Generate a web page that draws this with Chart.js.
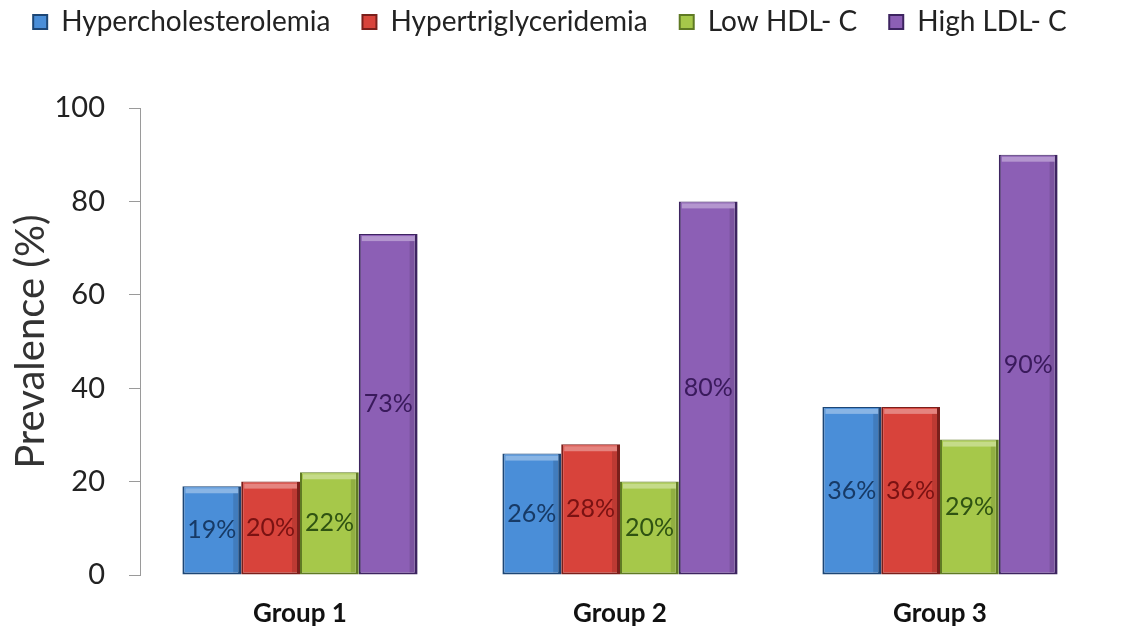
<!DOCTYPE html>
<html>
<head>
<meta charset="utf-8">
<script src="https://cdn.jsdelivr.net/npm/chart.js@4/dist/chart.umd.min.js"></script>
<style>
  html, body { margin: 0; padding: 0; background: #ffffff; }
  #wrap { width: 1127px; height: 626px; position: relative; }
</style>
</head>
<body>
<div id="wrap"><canvas id="prevChart" width="1127" height="626"></canvas></div>
<script>
const groups = ['Group 1', 'Group 2', 'Group 3'];
const seriesNames = ['Hypercholesterolemia', 'Hypertriglyceridemia', 'Low HDL- C', 'High LDL- C'];
const hyperChol = [19, 26, 36];
const hyperTrig = [20, 28, 36];
const lowHdl = [22, 20, 29];
const highLdl = [73, 80, 90];
const yTicks = [0, 20, 40, 60, 80, 100];

// fill, outline, label text
const palette = [
  { fill: '#4a8ed8', edge: '#1d4675', text: '#173a66' },
  { fill: '#d8433b', edge: '#7a1f1b', text: '#7a1212' },
  { fill: '#a6c84a', edge: '#5f7a24', text: '#2f5312' },
  { fill: '#8c5fb5', edge: '#3d2460', text: '#3a1a5c' }
];

const seriesValues = [hyperChol, hyperTrig, lowHdl, highLdl];

const datasets = seriesValues.map((vals, i) => ({
  label: seriesNames[i],
  data: vals,
  backgroundColor: palette[i].fill,
  borderColor: palette[i].edge,
  borderWidth: { left: 2, right: 3, top: 1, bottom: 2 },
  borderSkipped: false,
  barPercentage: 1.0,
  categoryPercentage: 0.735
}));

// legend sits high, with a wide gap under it
const legendGap = {
  id: 'legendGap',
  beforeInit(chart) {
    const fit = chart.legend.fit;
    chart.legend.fit = function () {
      fit.call(this);
      this.height = 132;
    };
  }
};

// light band along the top of each bar, then the value in the middle
const barDecor = {
  id: 'barDecor',
  afterDatasetsDraw(chart) {
    const ctx = chart.ctx;
    ctx.save();
    chart.data.datasets.forEach((ds, di) => {
      const meta = chart.getDatasetMeta(di);
      meta.data.forEach((bar, i) => {
        const half = bar.width / 2;
        ctx.fillStyle = 'rgba(255,255,255,0.35)';
        ctx.fillRect(bar.x - half + 3, bar.y + 2, bar.width - 6, 5);
        ctx.fillStyle = 'rgba(0,0,0,0.12)';
        ctx.fillRect(bar.x + half - 8, bar.y + 7, 5, bar.base - bar.y - 9);
        ctx.fillStyle = palette[di].text;
        ctx.font = '25px Lato';
        ctx.textAlign = 'center';
        ctx.textBaseline = 'middle';
        ctx.fillText(ds.data[i] + '%', bar.x, (bar.y + bar.base) / 2);
      });
    });
    ctx.restore();
  }
};

new Chart(document.getElementById('prevChart'), {
  type: 'bar',
  data: { labels: groups, datasets: datasets },
  options: {
    responsive: false,
    animation: false,
    layout: { padding: { left: 0, right: 27, top: -24, bottom: 0 } },
    plugins: {
      legend: {
        position: 'top',
        labels: {
          font: { family: 'Lato', size: 28 },
          color: '#222',
          boxWidth: 14,
          boxHeight: 14,
          padding: 32
        }
      },
      tooltip: { enabled: false }
    },
    scales: {
      x: {
        grid: { display: false },
        border: { display: false },
        ticks: {
          font: { family: 'Lato', size: 26, weight: 'bold' },
          color: '#111',
          padding: 15
        },
        afterFit(scale) { scale.height = 51; }
      },
      y: {
        min: 0,
        max: 100,
        afterBuildTicks(scale) { scale.ticks = yTicks.map(v => ({ value: v })); },
        grid: { drawOnChartArea: false, drawTicks: true, tickLength: 11, color: '#9a9a9a' },
        border: { display: true, color: '#9a9a9a', width: 1 },
        ticks: {
          font: { family: 'Lato', size: 29 },
          color: '#222',
          padding: 24
        },
        title: {
          display: true,
          text: 'Prevalence (%)',
          font: { family: 'Lato', size: 40 },
          color: '#333',
          padding: { top: 7, bottom: 0 }
        },
        afterFit(scale) { scale.width = 140; }
      }
    }
  },
  plugins: [legendGap, barDecor]
});
</script>
</body>
</html>
